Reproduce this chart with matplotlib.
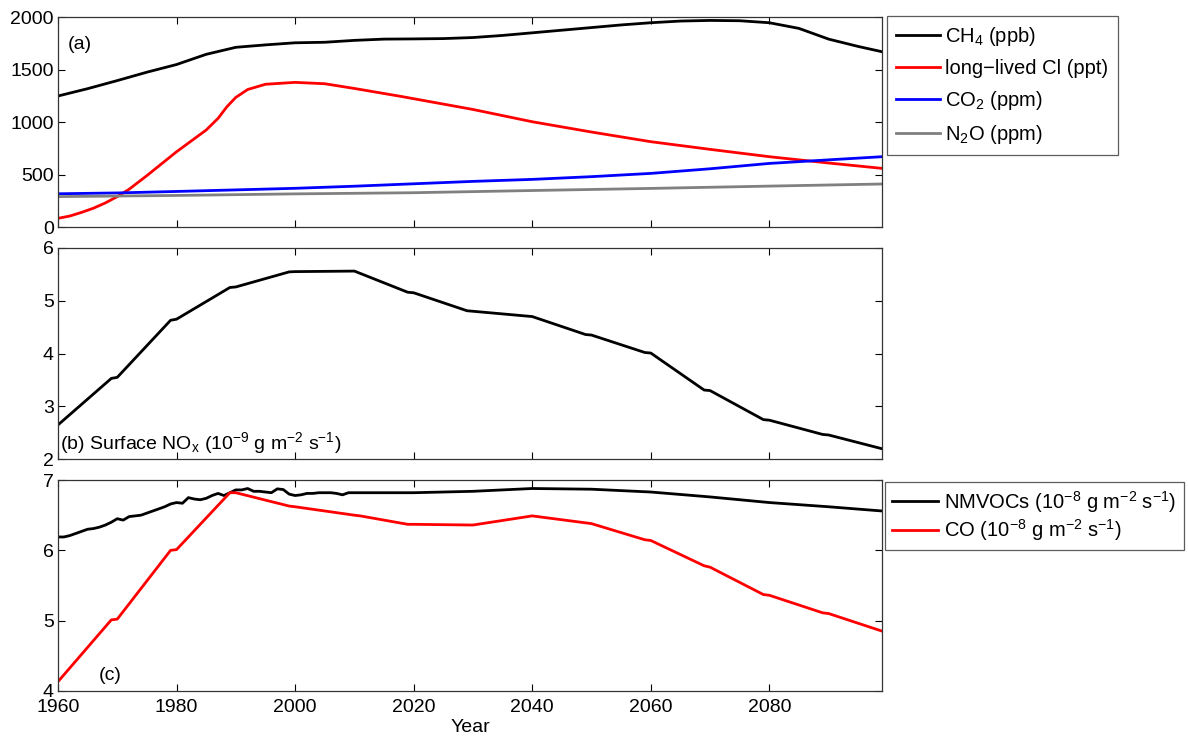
import numpy as np
import matplotlib
matplotlib.use("Agg")
import matplotlib.pyplot as plt

plt.rcParams['font.family'] = ['Liberation Sans', 'DejaVu Sans']
plt.rcParams['mathtext.fontset'] = 'custom'
plt.rcParams['mathtext.rm'] = 'Liberation Sans'
plt.rcParams['mathtext.it'] = 'Liberation Sans:italic'
plt.rcParams['mathtext.default'] = 'regular'

# (a) greenhouse gases
ch4_years = [1960, 1965, 1970, 1975, 1980, 1985, 1990, 1995, 2000, 2005, 2010, 2015,
             2020, 2025, 2030, 2035, 2040, 2045, 2050, 2055, 2060, 2065, 2070, 2075,
             2080, 2085, 2090, 2095, 2099]
ch4 = [1248, 1318, 1395, 1475, 1548, 1645, 1712, 1735, 1755, 1760, 1778, 1790,
       1792, 1795, 1805, 1825, 1850, 1875, 1900, 1925, 1946, 1962, 1968, 1965,
       1946, 1892, 1790, 1720, 1670]

cl_years = [1960, 1962, 1964, 1966, 1968, 1970, 1972, 1975, 1980, 1985, 1987, 1988.5,
            1990, 1992, 1995, 2000, 2005, 2010, 2018, 2030, 2040, 2050, 2060, 2070,
            2080, 2090, 2099]
cl = [83, 105, 140, 180, 230, 290, 360, 490, 717, 924, 1035, 1146,
      1235, 1310, 1360, 1378, 1365, 1320, 1243, 1120, 1003, 905, 813, 740,
      670, 610, 559]

co2_years = [1960, 1970, 1980, 1990, 2000, 2010, 2020, 2030, 2040, 2050, 2060, 2070,
             2080, 2090, 2099]
co2 = [317, 325, 339, 354, 369, 389, 412, 435, 454, 480, 511, 555, 606, 640, 670]

n2o_years = [1960, 1980, 2000, 2020, 2040, 2060, 2080, 2099]
n2o = [290, 301, 316, 327, 348, 368, 390, 410]

# (b) surface NOx
nox_years = [1960, 1969, 1970, 1979, 1980, 1989, 1990, 1999, 2000, 2010, 2019, 2020,
             2029, 2030, 2040, 2049, 2050, 2059, 2060, 2069, 2070, 2079, 2080, 2089,
             2090, 2099]
nox = [2.65, 3.53, 3.55, 4.63, 4.65, 5.25, 5.26, 5.545, 5.55, 5.56, 5.16, 5.15,
       4.81, 4.80, 4.70, 4.36, 4.35, 4.02, 4.01, 3.31, 3.30, 2.75, 2.74, 2.47,
       2.46, 2.20]

# (c) NMVOCs and CO
voc_years = [1960, 1961, 1962, 1963, 1964, 1965, 1966, 1967, 1968, 1969, 1970, 1971,
             1972, 1973, 1974, 1975, 1976, 1977, 1978, 1979, 1980, 1981, 1982, 1983,
             1984, 1985, 1986, 1987, 1988, 1989, 1990, 1991, 1992, 1993, 1994, 1995,
             1996, 1997, 1998, 1999, 2000, 2001, 2002, 2003, 2004, 2005, 2006, 2007,
             2008, 2009, 2010, 2020, 2030, 2040, 2050, 2060, 2070, 2080, 2090, 2099]
voc = [6.19, 6.19, 6.21, 6.24, 6.27, 6.30, 6.31, 6.33, 6.36, 6.40, 6.45, 6.43,
       6.48, 6.49, 6.50, 6.53, 6.56, 6.59, 6.62, 6.66, 6.68, 6.67, 6.75, 6.73,
       6.72, 6.74, 6.78, 6.81, 6.78, 6.82, 6.86, 6.86, 6.88, 6.84, 6.84, 6.83,
       6.82, 6.875, 6.865, 6.80, 6.78, 6.79, 6.81, 6.81, 6.82, 6.82, 6.82, 6.81,
       6.79, 6.82, 6.82, 6.82, 6.84, 6.88, 6.87, 6.83, 6.76, 6.68, 6.62, 6.56]

co_years = [1960, 1969, 1970, 1979, 1980, 1989, 1990, 1999, 2000, 2010, 2011, 2019,
            2020, 2030, 2040, 2050, 2059, 2060, 2069, 2070, 2079, 2080, 2089, 2090,
            2099]
co = [4.13, 5.01, 5.02, 6.00, 6.01, 6.82, 6.82, 6.63, 6.62, 6.50, 6.49, 6.37,
      6.37, 6.36, 6.49, 6.38, 6.15, 6.14, 5.78, 5.76, 5.37, 5.36, 5.11, 5.10,
      4.85]

fig = plt.figure(figsize=(11.88, 7.42), dpi=100)
left, width = 0.0488, 0.6936
ax_a = fig.add_axes([left, 0.694, width, 0.283])
ax_b = fig.add_axes([left, 0.381, width, 0.285])
ax_c = fig.add_axes([left, 0.069, width, 0.284])

lw = 2.0
fs = 14
ax_a.plot(ch4_years, ch4, color='black', lw=lw, label='CH$_4$ (ppb)')
ax_a.plot(cl_years, cl, color='red', lw=lw, label='long\u2212lived Cl (ppt)')
ax_a.plot(co2_years, co2, color='blue', lw=lw, label='CO$_2$ (ppm)')
ax_a.plot(n2o_years, n2o, color='#808080', lw=lw, label='N$_2$O (ppm)')
ax_a.set_ylim(0, 2000)
ax_a.set_yticks([0, 500, 1000, 1500, 2000])
ax_a.text(0.012, 0.85, '(a)', transform=ax_a.transAxes, fontsize=fs)

ax_b.plot(nox_years, nox, color='black', lw=lw)
ax_b.set_ylim(2, 6)
ax_b.set_yticks([2, 3, 4, 5, 6])
ax_b.text(0.003, 0.05, '(b) Surface NO$_x$ (10$^{-9}$ g m$^{-2}$ s$^{-1}$)',
          transform=ax_b.transAxes, fontsize=fs)

ax_c.plot(voc_years, voc, color='black', lw=lw,
          label='NMVOCs (10$^{-8}$ g m$^{-2}$ s$^{-1}$)')
ax_c.plot(co_years, co, color='red', lw=lw,
          label='CO (10$^{-8}$ g m$^{-2}$ s$^{-1}$)')
ax_c.set_ylim(4, 7)
ax_c.set_yticks([4, 5, 6, 7])
ax_c.text(0.05, 0.05, '(c)', transform=ax_c.transAxes, fontsize=fs)
ax_c.set_xlabel('Year', fontsize=fs, labelpad=2)

for ax in (ax_a, ax_b, ax_c):
    ax.set_xlim(1960, 2099)
    ax.set_xticks([1960, 1980, 2000, 2020, 2040, 2060, 2080])
    ax.tick_params(direction='in', top=True, right=True, length=5, width=0.8,
                   labelsize=fs, pad=3)
    ax.tick_params(axis='x', pad=6)
    for s in ax.spines.values():
        s.set_linewidth(0.9)
        s.set_color('#333333')
for ax in (ax_a, ax_b):
    ax.tick_params(labelbottom=False)

leg_a = fig.legend(*ax_a.get_legend_handles_labels(), loc='upper left',
                   bbox_to_anchor=(0.7466, 0.979), fontsize=14.5, frameon=True,
                   fancybox=False, edgecolor='#333333', handlelength=2.2,
                   labelspacing=0.55, borderpad=0.45, handletextpad=0.25,
                   borderaxespad=0)
leg_a.get_frame().set_linewidth(0.9)
leg_c = fig.legend(*ax_c.get_legend_handles_labels(), loc='upper left',
                   bbox_to_anchor=(0.7449, 0.351), fontsize=14.5, frameon=True,
                   fancybox=False, edgecolor='#333333', handlelength=2.3,
                   labelspacing=0.15, borderpad=0.35, handletextpad=0.3,
                   borderaxespad=0)
leg_c.get_frame().set_linewidth(0.9)

fig.savefig('out.png', dpi=100)
